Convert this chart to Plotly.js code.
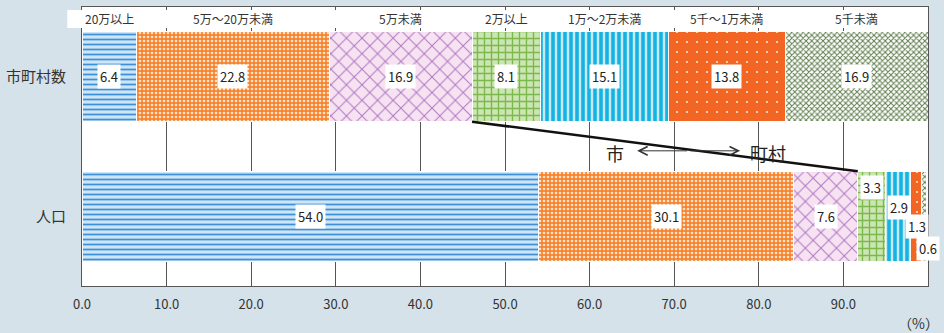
<!DOCTYPE html>
<html>
<head>
<meta charset="utf-8">
<script src="https://cdn.plot.ly/plotly-3.0.1.min.js"></script>
<style>
  html, body { margin: 0; padding: 0; background: #d5e2ea; }
  #chart { width: 944px; height: 333px; }
</style>
</head>
<body>
<div id="chart"></div>
<script>
// ---- data ----
const categories = ['市町村数', '人口'];
const sizeClasses = ['20万以上', '5万～20万未満', '5万未満', '2万以上', '1万～2万未満', '5千～1万未満', '5千未満'];
const municipalities = [6.4, 22.8, 16.9, 8.1, 15.1, 13.8, 16.9];
const population = [54.0, 30.1, 7.6, 3.3, 2.9, 1.3, 0.6];
const xTicks = [0, 10, 20, 30, 40, 50, 60, 70, 80, 90, 100];
const cityCount = 3; // first three classes are 市, rest are 町村

// ---- styles ----
const patterns = [
  {shape: '-', bgcolor: '#cde6f7', fgcolor: '#3f8fd6', size: 5, solidity: 0.35},
  {shape: '.', bgcolor: '#f5842f', fgcolor: '#fde1cb', size: 4, solidity: 0.35},
  {shape: 'x', bgcolor: '#f7e2f2', fgcolor: '#ad78c4', size: 11, solidity: 0.17},
  {shape: '+', bgcolor: '#cbe6b1', fgcolor: '#7db84f', size: 7, solidity: 0.35},
  {shape: '|', bgcolor: '#c8e9f4', fgcolor: '#15b3e1', size: 6, solidity: 0.6},
  {shape: '.', bgcolor: '#f26522', fgcolor: '#ffffff', size: 10, solidity: 0.025},
  {shape: 'x', bgcolor: '#ffffff', fgcolor: '#62804f', size: 4, solidity: 0.45}
];
const FONT = '"Noto Sans CJK JP", "Noto Sans", sans-serif';
const BAR_W = 0.645;

const traces = sizeClasses.map((name, i) => ({
  type: 'bar',
  orientation: 'h',
  name: name,
  y: categories,
  x: [municipalities[i], population[i]],
  width: BAR_W,
  marker: {
    color: patterns[i].bgcolor,
    line: {color: '#ffffff', width: 1},
    pattern: Object.assign({fillmode: 'replace'}, patterns[i])
  },
  hoverinfo: 'x+name'
}));

function starts(arr) {
  const s = []; let c = 0;
  arr.forEach(v => { s.push(c); c += v; });
  return s;
}
const mStart = starts(municipalities);
const pStart = starts(population);

const annotations = [];
// header labels (at the centers of the 市町村数 segments)
sizeClasses.forEach((name, i) => {
  annotations.push({
    x: mStart[i] + municipalities[i] / 2, xref: 'x', xanchor: 'center',
    y: 0.957, yref: 'paper', yanchor: 'middle',
    text: name, showarrow: false,
    font: {family: FONT, size: 12, color: '#333'}
  });
});
// value labels
const boxStyle = {showarrow: false, bgcolor: '#ffffff', borderpad: 2, xanchor: 'center',
  font: {family: FONT, size: 13, color: '#222'}};
municipalities.forEach((v, i) => {
  annotations.push(Object.assign({}, boxStyle, {
    x: mStart[i] + v / 2, y: categories[0], xref: 'x', yref: 'y',
    text: v.toFixed(1)
  }));
});
const smallShiftY = [0, 0, 0, 28.5, 8.5, -10.5, -32.5];
const smallShiftX = [0, 0, 0, 0, 1, 1.5, 4];
population.forEach((v, i) => {
  annotations.push(Object.assign({}, boxStyle, {
    x: pStart[i] + v / 2, y: categories[1], xref: 'x', yref: 'y',
    yshift: smallShiftY[i], xshift: smallShiftX[i],
    text: v.toFixed(1)
  }));
});
// 市 <--> 町村
const midY = 0.478;
annotations.push({x: 0.6295, y: midY, xref: 'paper', yref: 'paper', xanchor: 'center', yanchor: 'middle',
  text: '市', showarrow: false, font: {family: FONT, size: 18, color: '#222'}});
annotations.push({x: 0.8110, y: midY, xref: 'paper', yref: 'paper', xanchor: 'center', yanchor: 'middle',
  text: '町村', showarrow: false, font: {family: FONT, size: 18, color: '#222'}});
// two half-arrows pointing outwards from the middle
annotations.push({x: 0.6562, y: 0.4845, xref: 'paper', yref: 'paper', text: '',
  showarrow: true, ax: 51.5, ay: 0, arrowhead: 5, arrowsize: 1.7, arrowwidth: 1,
  arrowcolor: '#333', standoff: 0});
annotations.push({x: 0.7779, y: 0.4845, xref: 'paper', yref: 'paper', text: '',
  showarrow: true, ax: -51.5, ay: 0, arrowhead: 5, arrowsize: 1.7, arrowwidth: 1,
  arrowcolor: '#333', standoff: 0});
// (%)
annotations.push({x: 1.0155, y: -0.131, xref: 'paper', yref: 'paper', text: '（%）',
  showarrow: false, xanchor: 'right', yanchor: 'middle',
  font: {family: FONT, size: 14, color: '#333'}});

const shapes = [
  // white header band
  {type: 'rect', xref: 'paper', yref: 'paper', x0: -0.0174, x1: 0.9985, y0: 0.925, y1: 0.989,
   fillcolor: '#ffffff', line: {width: 0}, layer: 'above'},
  // connecting line between 市 / 町村 boundaries
  {type: 'line', xref: 'x', yref: 'y',
   x0: mStart[cityCount], y0: 0 + BAR_W / 2,
   x1: pStart[cityCount], y1: 1 - BAR_W / 2,
   line: {color: '#111', width: 2.5}, layer: 'above'}
];

const layout = {
  width: 944, height: 333,
  margin: {l: 82, r: 16, t: 7, b: 47},
  paper_bgcolor: '#d5e2ea',
  plot_bgcolor: '#ffffff',
  barmode: 'stack',
  showlegend: false,
  font: {family: FONT, color: '#333'},
  xaxis: {
    range: [0, 100], tickvals: xTicks, ticktext: xTicks.map(v => v.toFixed(1)),
    showgrid: true, gridcolor: '#555', gridwidth: 1,
    showline: true, mirror: true, linecolor: '#555', linewidth: 1,
    ticks: '', zeroline: false, ticklabelstandoff: 6,
    tickfont: {family: FONT, size: 13, color: '#333'}
  },
  yaxis: {
    type: 'category', categoryorder: 'array', categoryarray: categories,
    range: [1.5, -0.5],
    showgrid: false, showline: true, mirror: true, linecolor: '#555', linewidth: 1,
    ticks: '', zeroline: false, ticklabelstandoff: 12,
    tickfont: {family: FONT, size: 15, color: '#333'}
  },
  annotations: annotations,
  shapes: shapes
};

Plotly.newPlot('chart', traces, layout, {displayModeBar: false, staticPlot: true});
</script>
</body>
</html>
